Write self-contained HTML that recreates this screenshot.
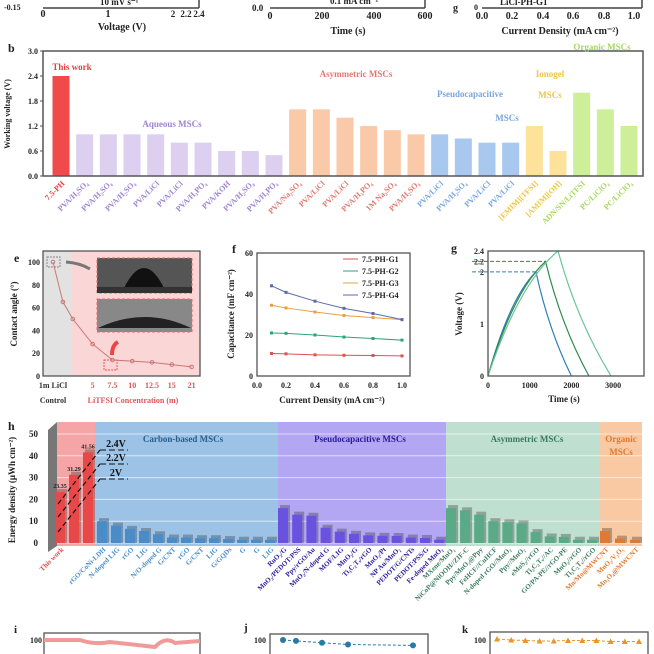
<!DOCTYPE html>
<html><head><meta charset="utf-8">
<style>
html,body{margin:0;padding:0;background:#fff;}
svg{display:block;font-family:"Liberation Serif",serif;font-weight:bold;}
</style></head><body>
<svg id="s" width="654" height="654" viewBox="0 0 654 654" xmlns="http://www.w3.org/2000/svg">
<g id="top" font-size="10" fill="#222">
<line x1="43" y1="8" x2="199" y2="8" stroke="#444" stroke-width="1.5"/>
<line x1="199" y1="0" x2="199" y2="8" stroke="#444" stroke-width="1.5"/>
<text x="4" y="10" font-size="8">-0.15</text>
<text x="43" y="17" text-anchor="middle">0</text><text x="108" y="17" text-anchor="middle">1</text>
<text x="173" y="17" text-anchor="middle" font-size="9">2</text><text x="186" y="17" text-anchor="middle" font-size="9">2.2</text><text x="199" y="17" text-anchor="middle" font-size="9">2.4</text>
<text x="100" y="5" font-size="9">10 mV s⁻¹</text>
<text x="122" y="30" text-anchor="middle">Voltage (V)</text>
<line x1="270" y1="8" x2="425" y2="8" stroke="#444" stroke-width="1.5"/>
<line x1="425" y1="0" x2="425" y2="8" stroke="#444" stroke-width="1.5"/>
<text x="252" y="11" font-size="9">0.0</text>
<text x="270" y="19" text-anchor="middle">0</text><text x="322" y="19" text-anchor="middle">200</text><text x="374" y="19" text-anchor="middle">400</text><text x="425" y="19" text-anchor="middle">600</text>
<text x="330" y="4" font-size="9">0.1 mA cm⁻²</text>
<text x="348" y="34" text-anchor="middle">Time (s)</text>
<line x1="482" y1="8" x2="642" y2="8" stroke="#444" stroke-width="1.5"/>
<line x1="642" y1="0" x2="642" y2="8" stroke="#444" stroke-width="1.5"/>
<text x="453" y="11" font-size="10">g</text>
<text x="478" y="10" font-size="8" text-anchor="end">0</text>
<text x="500" y="5" font-size="9">LiCl-PH-G1</text>
<text x="482" y="19" text-anchor="middle">0.0</text><text x="512" y="19" text-anchor="middle">0.2</text><text x="543" y="19" text-anchor="middle">0.4</text><text x="573" y="19" text-anchor="middle">0.6</text><text x="604" y="19" text-anchor="middle">0.8</text><text x="634" y="19" text-anchor="middle">1.0</text>
<text x="560" y="34" text-anchor="middle">Current Density (mA cm⁻²)</text>
</g>
<g id="b"></g><g id="e"></g><g id="f"></g><g id="g"></g><g id="h"></g><g id="bot"></g>
</svg>
<script>
const NS="http://www.w3.org/2000/svg";
function el(p,t,a,txt){const e=document.createElementNS(NS,t);for(const k in a)e.setAttribute(k,a[k]);if(txt!==undefined)e.textContent=txt;p.appendChild(e);return e;}
// ---------- Panel b data ----------
const bLabels=["7.5-PH","PVA/H₂SO₄","PVA/H₂SO₄","PVA/H₂SO₄","PVA/LiCl","PVA/LiCl","PVA/H₃PO₄","PVA/KOH","PVA/H₂SO₄","PVA/H₃PO₄","PVA/Na₂SO₄","PVA/LiCl","PVA/LiCl","PVA/H₃PO₄","1M Na₂SO₄","PVA/H₂SO₄","PVA/LiCl","PVA/H₂SO₄","PVA/LiCl","PVA/LiCl","[EMIM][TFSI]","[AMIM][OH]","ADN/SN/LiTFSI","PC/LiClO₄","PC/LiClO₄"];
const bValues=[2.4,1,1,1,1,0.8,0.8,0.6,0.6,0.5,1.6,1.6,1.4,1.2,1.1,1.0,1.0,0.9,0.8,0.8,1.2,0.6,2.0,1.6,1.2];
const bGroup=[0,1,1,1,1,1,1,1,1,1,2,2,2,2,2,2,3,3,3,3,4,4,5,5,5];
const bTicks=[0,0.6,1.2,1.8,2.4,3.0];
const bBar=["#f04a4a","#dccff0","#f9c9a8","#a9c8ef","#fde29a","#cdef9a"];
const bTxt=["#e83c3c","#9f84d4","#e07a70","#7aa6dc","#efc545","#a6d860"];
(function(){
 const g=document.getElementById('b');
 const x0=43,x1=643,yb=176,yt=51;
 const y=v=>yb-(v/3)*(yb-yt);
 const xi=i=>61+i*((629-61)/(bValues.length-1));
 el(g,'text',{x:8,y:52,'font-size':12,fill:'#222'},'b');
 bValues.forEach((v,i)=>{
  const r=el(g,'rect',{x:xi(i)-8.5,y:y(v),width:17,height:yb-y(v),fill:bBar[bGroup[i]]});
  
  
  const t=el(g,'text',{x:0,y:0,'font-size':8,'text-anchor':'end',fill:bTxt[bGroup[i]],transform:`translate(${xi(i)+4},${yb+8}) rotate(-45)`},bLabels[i]);
  
  
 });
 el(g,'rect',{x:x0,y:yt,width:x1-x0,height:yb-yt,fill:'none',stroke:'#555','stroke-width':1.5});
 bTicks.forEach(v=>{el(g,'line',{x1:x0,x2:x0-3,y1:y(v),y2:y(v),stroke:'#555'});
  el(g,'text',{x:x0-5,y:y(v)+3,'font-size':8,'text-anchor':'end',fill:'#222'},v.toFixed(1));});
 const yt2=el(g,'text',{x:0,y:0,'font-size':8,'text-anchor':'middle',fill:'#222',transform:`translate(10,114) rotate(-90)`},'Working voltage (V)');
 
 const ann=[["This work",72,70,'#e83c3c'],["Aqueous MSCs",172,127,'#9f84d4'],["Asymmetric MSCs",356,77,'#e07a70'],["Pseudocapacitive",470,97,'#7aa6dc'],["MSCs",507,121,'#7aa6dc'],["Ionogel",550,77,'#efc545'],["MSCs",550,98,'#efc545'],["Organic MSCs",602,50,'#a6d860']];
 ann.forEach(a=>{const t=el(g,'text',{x:a[1],y:a[2],'font-size':9,'text-anchor':'middle',fill:a[3]},a[0]);});
})();
// ---------- Panel e ----------
const eX=[0,0.5,1,2,3,4,5,6,7];
const eY=[100,65,50,28,14,13,12,10,8];
const eTickPos=[0,2,3,4,5,6,7];
const eTickLab=["1m LiCl","5","7.5","10","12.5","15","21"];
const eYTicks=[0,20,40,60,80,100];
(function(){
 const g=document.getElementById('e');
 const x=v=>53+v*19.8,y=v=>376-v*1.14;
 el(g,'rect',{x:43,y:251,width:29,height:125,fill:'#e2e2e2'});
 el(g,'rect',{x:72,y:251,width:128,height:125,fill:'#fbd6d6'});
 el(g,'text',{x:14,y:262,'font-size':12,fill:'#222'},'e');
 el(g,'rect',{x:97,y:258,width:95,height:35,fill:'#555',stroke:'#e66','stroke-dasharray':'3 2'});
 el(g,'rect',{x:97,y:299,width:95,height:33,fill:'#888',stroke:'#e66','stroke-dasharray':'3 2'});
 el(g,'path',{d:'M124 288 Q144 248 164 288 Z',fill:'#111'});
 el(g,'rect',{x:97,y:287,width:95,height:6,fill:'#333'});
 el(g,'path',{d:'M98 328 Q145 306 191 328 Z',fill:'#222'});
 el(g,'rect',{x:47,y:257,width:13,height:10,fill:'none',stroke:'#888','stroke-dasharray':'2 1'});
 el(g,'rect',{x:104,y:360,width:13,height:10,fill:'none',stroke:'#e55','stroke-dasharray':'2 1'});
 el(g,'path',{d:'M66 262 Q80 263 90 269',fill:'none',stroke:'#777','stroke-width':3});
 el(g,'path',{d:'M112 355 Q112 345 118 342',fill:'none',stroke:'#e44','stroke-width':4});
 const pts=eX.map((v,i)=>x(v)+','+y(eY[i])).join(' ');
 el(g,'polyline',{points:pts,fill:'none',stroke:'#c77','stroke-width':1});
 eX.forEach((v,i)=>{const c=el(g,'circle',{cx:x(v),cy:y(eY[i]),r:1.8,fill:'none',stroke:'#c77'});});
 el(g,'rect',{x:43,y:251,width:157,height:125,fill:'none',stroke:'#555','stroke-width':1.3});
 eYTicks.forEach(v=>el(g,'text',{x:40,y:y(v)+3,'font-size':8,'text-anchor':'end',fill:'#222'},v));
 eTickPos.forEach((p,i)=>el(g,'text',{x:x(p),y:388,'font-size':8,'text-anchor':'middle',fill:i?'#d55':'#333'},eTickLab[i]));
 el(g,'text',{x:53,y:403,'font-size':8,'text-anchor':'middle',fill:'#333'},'Control');
 el(g,'text',{x:133,y:403,'font-size':8,'text-anchor':'middle',fill:'#d55'},'LiTFSI Concentration (m)');
 el(g,'text',{x:0,y:0,'font-size':9,'text-anchor':'middle',fill:'#222',transform:'translate(17,314) rotate(-90)'},'Contact angle (°)');
})();
// ---------- Panel f ----------
const fX=[0.1,0.2,0.4,0.6,0.8,1.0];
const fG1=[11,10.8,10.3,10.1,10,9.8];
const fG2=[21,20.8,20,19,18.3,17.5];
const fG3=[34.5,33.2,31.2,29.5,28.5,27.5];
const fG4=[44,40.8,36.5,33,30.5,27.5];
const fNames=["7.5-PH-G1","7.5-PH-G2","7.5-PH-G3","7.5-PH-G4"];
const fXT=[0,0.2,0.4,0.6,0.8,1.0],fYT=[0,20,40,60];
(function(){
 const g=document.getElementById('f');
 const x=v=>257+v*145,y=v=>376-v*123/60;
 el(g,'text',{x:232,y:253,'font-size':12,fill:'#222'},'f');
 const cols=['#d9534f','#2ea37a','#e8a040','#5b6aa8'];
 [fG1,fG2,fG3,fG4].forEach((s,k)=>{
  el(g,'polyline',{points:fX.map((v,i)=>x(v)+','+y(s[i])).join(' '),fill:'none',stroke:cols[k],'stroke-width':1});
  s.forEach((v,i)=>{const m=el(g,'rect',{x:x(fX[i])-1.5,y:y(v)-1.5,width:3,height:3,fill:cols[k]});});
  const ly=259+k*12;
  el(g,'line',{x1:343,x2:358,y1:ly,y2:ly,stroke:cols[k]});
  const lt=el(g,'text',{x:362,y:ly+3,'font-size':8,fill:'#222'},fNames[k]);
 });
 el(g,'rect',{x:257,y:253,width:153,height:123,fill:'none',stroke:'#555','stroke-width':1.3});
 fYT.forEach(v=>el(g,'text',{x:253,y:y(v)+3,'font-size':8,'text-anchor':'end',fill:'#222'},v));
 fXT.forEach(v=>el(g,'text',{x:x(v),y:388,'font-size':8,'text-anchor':'middle',fill:'#222'},v.toFixed(1)));
 el(g,'text',{x:332,y:403,'font-size':9,'text-anchor':'middle',fill:'#222'},'Current Density (mA cm⁻²)');
 el(g,'text',{x:0,y:0,'font-size':9,'text-anchor':'middle',fill:'#222',transform:'translate(234,314) rotate(-90)'},'Capacitance (mF cm⁻²)');
})();
// ---------- Panel g ----------
const gPeakT=[1150,1380,1680];
const gPeakV=[2.0,2.2,2.4];
const gEndT=[2000,2420,2950];
const gXT=[0,1000,2000,3000],gYT=[0,1,2,2.2,2.4];
(function(){
 const g=document.getElementById('g');
 const x=v=>488+v*0.0417,y=v=>376-v*125/2.4;
 el(g,'text',{x:451,y:252,'font-size':12,fill:'#222'},'g');
 const cols=['#2f7fb8','#2e8a4a','#6cc49a'];
 gPeakT.forEach((t,k)=>{
  const d=`M${x(0)},${y(0)} Q${x(t*0.45)},${y(gPeakV[k]*0.75)} ${x(t)},${y(gPeakV[k])} Q${x(t+(gEndT[k]-t)*0.35)},${y(gPeakV[k]*0.45)} ${x(gEndT[k])},${y(0)}`;
  const p=el(g,'path',{d:d,fill:'none',stroke:cols[k],'stroke-width':1.2});
  if(k<2)el(g,'line',{x1:472,x2:x(t),y1:y(gPeakV[k]),y2:y(gPeakV[k]),stroke:cols[k],'stroke-dasharray':'4 2'});
 });
 el(g,'rect',{x:488,y:251,width:156,height:125,fill:'none',stroke:'#555','stroke-width':1.3});
 gYT.forEach(v=>el(g,'text',{x:484,y:y(v)+3,'font-size':8,'text-anchor':'end',fill:'#222'},v));
 gXT.forEach(v=>el(g,'text',{x:x(v),y:388,'font-size':8,'text-anchor':'middle',fill:'#222'},v));
 el(g,'text',{x:564,y:402,'font-size':9,'text-anchor':'middle',fill:'#222'},'Time (s)');
 el(g,'text',{x:0,y:0,'font-size':9,'text-anchor':'middle',fill:'#222',transform:'translate(462,314) rotate(-90)'},'Voltage (V)');
})();
// ---------- Panel h ----------
const hLabels=["This work","rGO/CoNi-LDH","N-doped LIG","rGO","LIG","N/O-doped G","G/CNT","rGO","G/CNT","LIG","G/GQDs","G","G","LIG","RuO₂/G","MnO₂/PEDOT:PSS","Ppy/rGO/Au","MnO₂/N-doped G","MOF/LIG","MnO₂/G","Ti₃C₂Tₓ/rGO","MnO₂/Pt","NP Au/MnO₂","PEDOT/G/CNTs","PEDOT:PSS/G","Fe-doped MnO₂","MXene/MnO₂","NiCoP@NiOOH//ZIF-C","Ppy/MnO₂@Ppy","FeHCF//CuHCF","N-doped rGO//MnO₂","Ppy//MnO₂","eMoS₂//rGO","Ti₃C₂Tₓ//AC","GO/PA-PE//rGO-PE","MnO₂//rGO","Ti₃C₂Tₓ//rGO","Mn/Mo@MWCNT","MnO₂/V₂O₅","Mn₃O₄@MWCNT"];
const hWork=[23.35,31.29,41.56];
const hCarbon=[10,8,6.5,5.5,4,2.5,2.5,2.2,2.2,1.8,1.5,1.5,1.5];
const hPseudo=[16,13,12.5,7,5.2,4.2,3.5,3.3,3.2,2.5,2.3,1.5];
const hAsym=[16,15,13,10,9.5,9,5,3,2.8,1.5,1.5];
const hOrg=[5.5,2,1.5];
const hYT=[0,10,20,30,40,50];
(function(){
 const g=document.getElementById('h');
 const y=v=>543-v*2.18;
 el(g,'text',{x:8,y:430,'font-size':12,fill:'#222'},'h');
 const regs=[[57,95,'#f5a5a5'],[95,278,'#9cc3e6'],[278,446,'#b3a6f2'],[446,600,'#bfe0d0'],[600,642,'#f9c9a3']];
 regs.forEach((r,i)=>{const b=el(g,'rect',{x:r[0],y:422,width:r[1]-r[0],height:124,fill:r[2]});});
 el(g,'path',{d:'M48 430 L57 422 L57 546 L48 552 Z',fill:'#777'});
 hYT.forEach(v=>{el(g,'line',{x1:57,x2:642,y1:y(v),y2:y(v),stroke:'#fff','stroke-opacity':0.6});
  el(g,'text',{x:38,y:y(v)+3,'font-size':9,'text-anchor':'end',fill:'#222'},v);});
 const titles=[["Carbon-based MSCs",183,442,'#2a5d8a'],["Pseudocapacitive MSCs",360,442,'#2a1a9a'],["Asymmetric MSCs",527,442,'#3a7a60'],["Organic",621,442,'#e07a30'],["MSCs",621,455,'#e07a30']];
 titles.forEach(t=>el(g,'text',{x:t[1],y:t[2],'font-size':9,'text-anchor':'middle',fill:t[3]},t[0]));
 const groups=[[hWork,60,14,'#e84848','#e84848'],[hCarbon,102,14,'#4a8cc8','#4a8cc8'],[hPseudo,283,14.2,'#6a52e0','#2a1a9a'],[hAsym,451,14.1,'#5aaa88','#3a7a60'],[hOrg,605,15,'#e07a30','#e07a30']];
 let li=0;
 groups.forEach((G,gi)=>{
  G[0].forEach((v,i)=>{
   const cx=G[1]+i*G[2];
   el(g,'rect',{x:cx-3,y:y(v)-3,width:10,height:543-y(v)+3,fill:'#333','fill-opacity':0.35});
   const r=el(g,'rect',{x:cx-5,y:y(v),width:10,height:543-y(v),fill:G[3]});
   
   
   if(gi===0){el(g,'text',{x:cx,y:y(v)-4,'font-size':6,'text-anchor':'middle',fill:'#222'},v);}
   if(gi!==0||i===0){
    const t=el(g,'text',{x:0,y:0,'font-size':7,'text-anchor':'end',fill:G[4],transform:`translate(${cx+4},550) rotate(-45)`},hLabels[li]);
    
    
    li++;
   }
  });
 });
 [['2.4V',447,460],['2.2V',461,473],['2V',476,488]].forEach((a,i)=>{
  el(g,'text',{x:116,y:a[1],'font-size':10,'text-anchor':'middle',fill:'#111'},a[0]);
  el(g,'line',{x1:58+i*0,y1:a[2]+44-i*0,x2:100,y2:a[1]+3,stroke:'#111','stroke-dasharray':'5 3','stroke-width':1.2});
  el(g,'line',{x1:100,y1:a[1]+3,x2:128,y2:a[1]+3,stroke:'#111','stroke-dasharray':'6 3','stroke-width':1});
 });
 el(g,'text',{x:0,y:0,'font-size':9,'text-anchor':'middle',fill:'#222',transform:'translate(15,490) rotate(-90)'},'Energy density (μWh cm⁻²)');
})();
// ---------- bottom panels ----------
const jX=[0,1,3,5,10];
const jY=[100,99,97,95,94];
const kY=[100,98,97,96,96,97,97,97,95,95,95];
(function(){
 const g=document.getElementById('bot');
 el(g,'text',{x:14,y:633,'font-size':11,fill:'#222'},'i');
 el(g,'rect',{x:44,y:633,width:156,height:30,fill:'none',stroke:'#555','stroke-width':1.3});
 el(g,'path',{d:'M44 640 L80 640 Q95 645 110 642 L155 647 Q165 636 175 643 L200 641',fill:'none',stroke:'#f09a9a','stroke-width':4});
 el(g,'text',{x:42,y:643,'font-size':8,'text-anchor':'end',fill:'#222'},'100');
 el(g,'text',{x:244,y:631,'font-size':11,fill:'#222'},'j');
 el(g,'rect',{x:270,y:634,width:158,height:30,fill:'none',stroke:'#555','stroke-width':1.3});
 el(g,'text',{x:266,y:643,'font-size':8,'text-anchor':'end',fill:'#222'},'100');
 const jx=v=>283+v*13,jy=v=>640+(100-v)*0.9;
 el(g,'polyline',{points:jX.map((v,i)=>jx(v)+','+jy(jY[i])).join(' '),fill:'none',stroke:'#2a7aa8','stroke-dasharray':'3 2'});
 jX.forEach((v,i)=>{const c=el(g,'circle',{cx:jx(v),cy:jy(jY[i]),r:3,fill:'#2a7aa8'});});
 el(g,'text',{x:462,y:633,'font-size':11,fill:'#222'},'k');
 el(g,'rect',{x:490,y:632,width:158,height:30,fill:'none',stroke:'#555','stroke-width':1.3});
 el(g,'text',{x:486,y:643,'font-size':8,'text-anchor':'end',fill:'#222'},'100');
 const kx=i=>497+i*14.2,ky=v=>639+(100-v)*0.5;
 el(g,'polyline',{points:kY.map((v,i)=>kx(i)+','+ky(v)).join(' '),fill:'none',stroke:'#e8962a','stroke-dasharray':'3 2'});
 kY.forEach((v,i)=>{const t=el(g,'path',{d:`M${kx(i)-3},${ky(v)+2.5} L${kx(i)+3},${ky(v)+2.5} L${kx(i)},${ky(v)-3} Z`,fill:'#e8962a'});});
})();
</script>
</body></html>
